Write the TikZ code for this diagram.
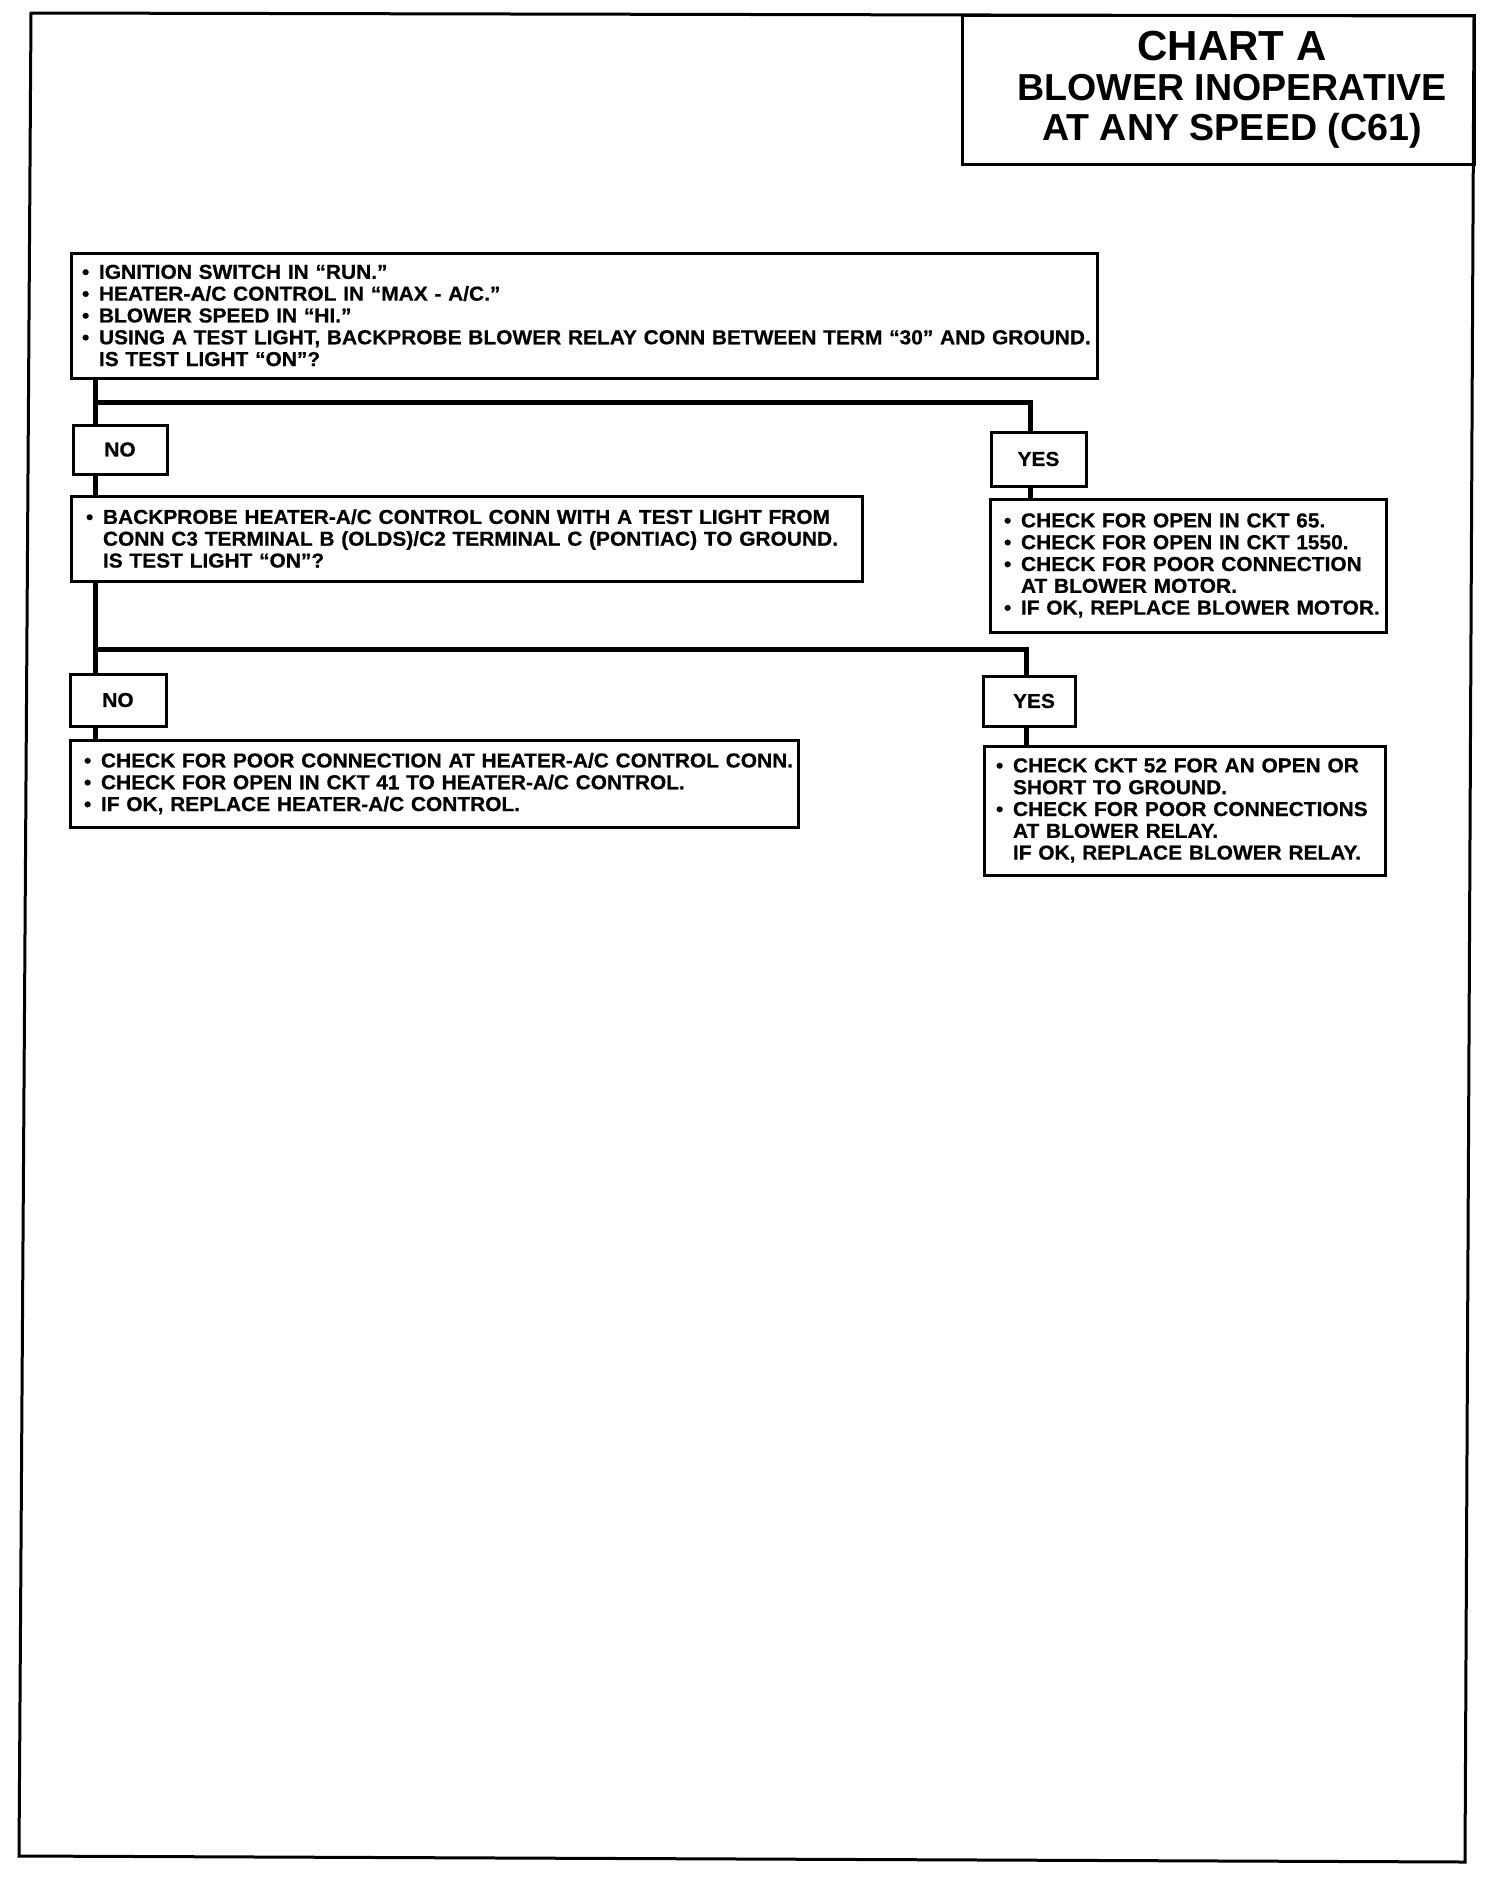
\documentclass[tikz,border=0pt]{standalone}
\usepackage{fontspec}
\newfontfamily\boxfont{Liberation Sans}[FakeStretch=1.035, BoldFeatures={FakeBold=0.6}]
\newfontfamily\titlefont{Liberation Sans}
\newlength\bulw \setlength\bulw{8.5pt}
\newcommand\bl[1]{\mbox{\makebox[\bulw][l]{•}#1}}
\newcommand\il[1]{\mbox{\hspace*{\bulw}#1}}
\tikzset{
  frame/.style={line width=1.5pt, line join=miter},
  box/.style={draw, line width=1.5pt, anchor=north west, outer sep=0pt, inner ysep=0pt, align=left,
    font=\boxfont\bfseries\fontsize{10.1}{10.9}\selectfont},
  tag/.style={draw, line width=1.5pt, anchor=north west, outer sep=0pt, inner sep=0pt, align=center,
    font=\boxfont\bfseries\fontsize{10.1}{10.9}\selectfont},
  link/.style={line width=2.5pt, line join=miter},
}
\begin{document}
\begin{tikzpicture}[x=0.5pt, y=-0.5pt]
\useasboundingbox (0,0) rectangle (1504,1880);
% outer frame (slightly skewed as scanned)
\draw[frame] (31,13) -- (1474,16) -- (1465,1862) -- (19,1856) -- cycle;

% title
\node[draw, line width=1.5pt, anchor=north west, outer sep=0pt, inner sep=0pt, align=center,
  minimum width=256pt, minimum height=74.5pt,
  font=\titlefont\bfseries\fontsize{18.8}{20}\selectfont] (title) at (962,15)
  {\hspace*{14pt}{\fontsize{21}{20}\selectfont CHART A}\\
   \hspace*{14pt}BLOWER INOPERATIVE\\
   \hspace*{14pt}AT ANY SPEED (C61)};

% question 1
\node[box, minimum width=513pt, minimum height=62.5pt, inner xsep=5.5pt, text width=502pt] (q1) at (71,253)
  {\bl{IGNITION SWITCH IN “RUN.”}\\
   \bl{HEATER-A/C CONTROL IN “MAX - A/C.”}\\
   \bl{BLOWER SPEED IN “HI.”}\\
   \bl{USING A TEST LIGHT, BACKPROBE BLOWER RELAY CONN BETWEEN TERM “30” AND GROUND.}\\
   \il{IS TEST LIGHT “ON”?}};

\node[tag, minimum width=47pt, minimum height=24.5pt] (no1) at (73,425) {NO};
\node[tag, minimum width=47.5pt, minimum height=27pt] (yes1) at (991,432) {YES};

% question 2
\node[box, minimum width=395.5pt, minimum height=42.5pt, inner xsep=7.5pt, text width=380.5pt] (q2) at (71,496)
  {\bl{BACKPROBE HEATER-A/C CONTROL CONN WITH A TEST LIGHT FROM}\\
   \il{CONN C3 TERMINAL B (OLDS)/C2 TERMINAL C (PONTIAC) TO GROUND.}\\
   \il{IS TEST LIGHT “ON”?}};

% result for yes 1
\node[box, minimum width=198pt, minimum height=66.5pt, inner xsep=7pt, text width=184pt] (r1) at (990,499)
  {\bl{CHECK FOR OPEN IN CKT 65.}\\
   \bl{CHECK FOR OPEN IN CKT 1550.}\\
   \bl{CHECK FOR POOR CONNECTION}\\
   \il{AT BLOWER MOTOR.}\\
   \bl{IF OK, REPLACE BLOWER MOTOR.}};

\node[tag, minimum width=48pt, minimum height=26pt] (no2) at (70,674) {NO};
\node[tag, minimum width=46pt, minimum height=25pt] (yes2) at (983,676) {\hspace*{5pt}YES};

% result for no 2
\node[box, minimum width=364pt, minimum height=43.5pt, inner xsep=7pt, text width=350pt] (r3) at (70,740)
  {\bl{CHECK FOR POOR CONNECTION AT HEATER-A/C CONTROL CONN.}\\
   \bl{CHECK FOR OPEN IN CKT 41 TO HEATER-A/C CONTROL.}\\
   \bl{IF OK, REPLACE HEATER-A/C CONTROL.}};

% result for yes 2
\node[box, minimum width=200.5pt, minimum height=64.5pt, inner xsep=6pt, text width=188.5pt] (r4) at (984,746)
  {\bl{CHECK CKT 52 FOR AN OPEN OR}\\
   \il{SHORT TO GROUND.}\\
   \bl{CHECK FOR POOR CONNECTIONS}\\
   \il{AT BLOWER RELAY.}\\
   \il{IF OK, REPLACE BLOWER RELAY.}};

% connector guide coordinates
\coordinate (L) at (95,0);
\coordinate (J1) at (95,402);
\coordinate (R1) at (1030,0);
\coordinate (J2) at (95,649);
\coordinate (R2) at (1026,0);

\draw[link] (q1.south -| L) -- (no1.north -| L);
\draw[link] (J1) -| (yes1.north -| R1);
\draw[link] (yes1.south -| R1) -- (r1.north -| R1);
\draw[link] (no1.south -| L) -- (q2.north -| L);
\draw[link] (q2.south -| L) -- (no2.north -| L);
\draw[link] (J2) -| (yes2.north -| R2);
\draw[link] (yes2.south -| R2) -- (r4.north -| R2);
\draw[link] (no2.south -| L) -- (r3.north -| L);
\end{tikzpicture}
\end{document}
